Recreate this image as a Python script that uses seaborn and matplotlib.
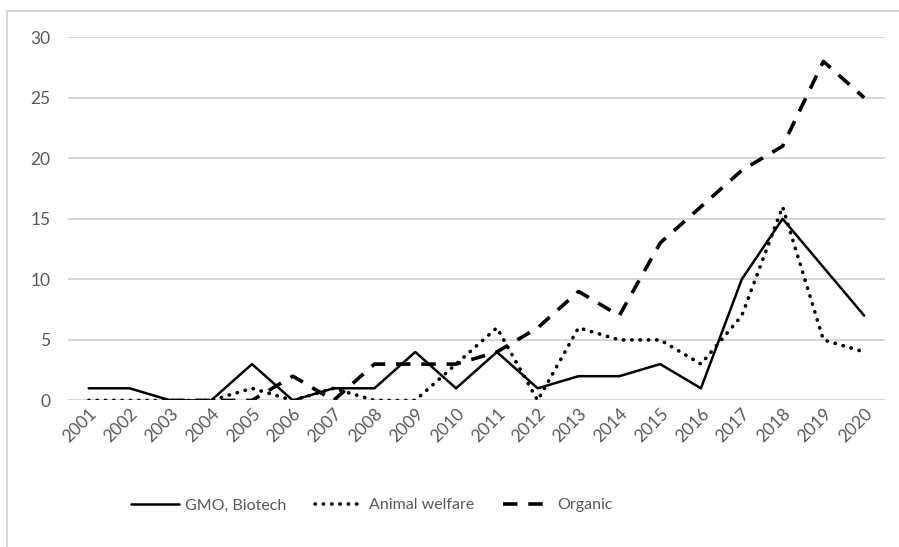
import pandas as pd
import matplotlib.pyplot as plt
import seaborn as sns

# Values
years = list(range(2001, 2021))
gmo = [1, 1, 0, 0, 3, 0, 1, 1, 4, 1, 4, 1, 2, 2, 3, 1, 10, 15, 11, 7]
animal = [0, 0, 0, 0, 1, 0, 1, 0, 0, 3, 6, 0, 6, 5, 5, 3, 7, 16, 5, 4]
organic = [None, None, 0, 0, 0, 2, 0, 3, 3, 3, 4, 6, 9, 7, 13, 16, 19, 21, 28, 25]
series_names = ['GMO, Biotech', 'Animal welfare', 'Organic']

df = pd.DataFrame({'year': [str(y) for y in years] * 3,
                   'count': gmo + animal + organic,
                   'series': [n for n in series_names for _ in years]})

sns.set_style('white')
plt.rcParams['font.family'] = ['Lato', 'DejaVu Sans']

fig = plt.figure(figsize=(8.99, 5.47), dpi=100)
ax = fig.add_axes([0.076, 0.268, 0.908, 0.664])

for name in series_names:
    sub = df[df['series'] == name]
    sns.lineplot(x=sub['year'], y=sub['count'], ax=ax, color='black',
                 lw=1.8, label=name, sort=False)
    l = ax.lines[-1]
    if name == 'Animal welfare':
        l.set_linestyle((0, (0.1, 2.2)))
        l.set_dash_capstyle('round')
        l.set_linewidth(2.6)
    elif name == 'Organic':
        l.set_linestyle((0, (4, 3)))
        l.set_linewidth(2.6)

ax.set_ylim(0, 30)
ax.set_yticks(range(0, 31, 5))
ax.set_xlim(-0.5, 19.5)
ax.yaxis.grid(True, color='#d0d0d0', lw=1.2)
ax.set_axisbelow(True)
for s in ax.spines.values():
    s.set_visible(False)
ax.set_xlabel('')
ax.set_ylabel('')
ax.tick_params(axis='both', labelsize=12.5, colors='#595959', length=0)
plt.setp(ax.get_xticklabels(), rotation=45, ha='right', rotation_mode='anchor')
ax.tick_params(axis='y', pad=13)

leg = ax.legend(loc='upper center', bbox_to_anchor=(0.372, -0.23), ncol=3, frameon=False,
                fontsize=11.5, handlelength=3.0, handletextpad=0.4, columnspacing=1.8)
for t in leg.get_texts():
    t.set_color('#595959')

# outer chart frame (left and top edges only)
fig.add_artist(plt.Line2D([0.008, 0.008], [0.0, 0.98], transform=fig.transFigure,
                          color='#d0d0d0', lw=1.2))
fig.add_artist(plt.Line2D([0.008, 1.0], [0.98, 0.98], transform=fig.transFigure,
                          color='#d0d0d0', lw=1.2))

fig.savefig('out.png', dpi=100)
